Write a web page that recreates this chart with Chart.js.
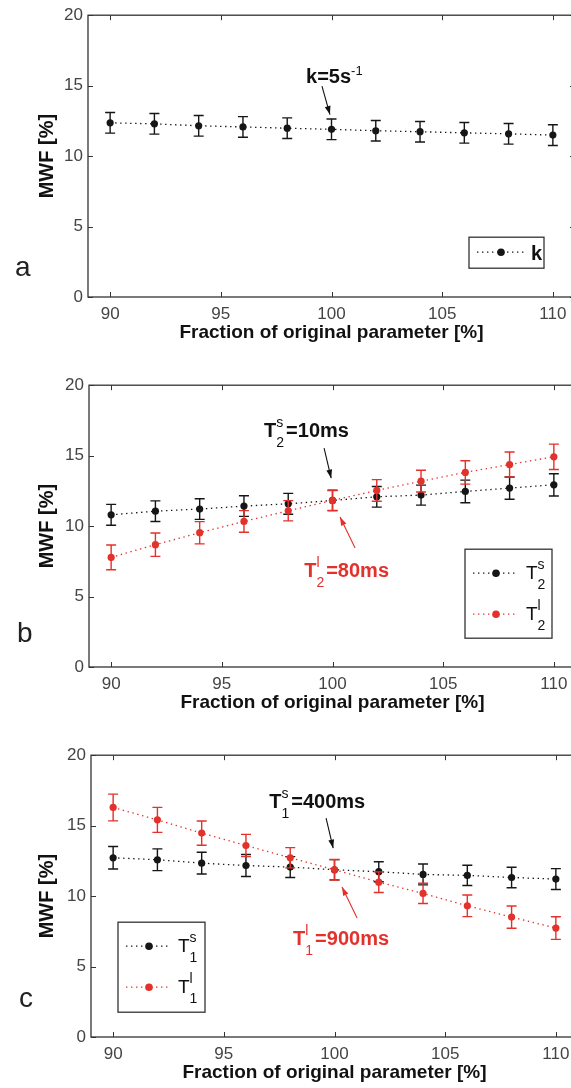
<!DOCTYPE html>
<html><head><meta charset="utf-8">
<script src="https://cdn.jsdelivr.net/npm/chart.js@4.4.1/dist/chart.umd.min.js"></script>
<style>
html,body{margin:0;padding:0;background:#fff;}
#wrap{position:relative;width:571px;height:1088px;overflow:hidden;background:#fff;}
.panel{position:absolute;left:0;width:600px;height:348px;}
.lbl{position:absolute;font:28px 'Liberation Sans',Arial,sans-serif;line-height:28px;color:#222;}
</style></head><body>
<div id="wrap">
 <div class="panel" style="top:0"><canvas id="ca" width="600" height="348"></canvas></div>
 <div class="panel" style="top:370px"><canvas id="cb" width="600" height="348"></canvas></div>
 <div class="panel" style="top:740px"><canvas id="cc" width="600" height="348"></canvas></div>
 <div class="lbl" style="left:15px;top:253px">a</div>
 <div class="lbl" style="left:17px;top:619px">b</div>
 <div class="lbl" style="left:19px;top:984px">c</div>
</div>
<script>
// ---------- data ----------
const xTicks = [90, 95, 100, 105, 110];
const yTicks = [0, 5, 10, 15, 20];
const fractions = [90, 92, 94, 96, 98, 100, 102, 104, 106, 108, 110];

const kVals  = [12.36, 12.29, 12.15, 12.07, 11.98, 11.90, 11.80, 11.73, 11.65, 11.58, 11.49];
const kErr   = [0.73, 0.73, 0.73, 0.73, 0.73, 0.73, 0.73, 0.73, 0.73, 0.73, 0.74];

const t2sVals = [10.80, 11.06, 11.21, 11.42, 11.58, 11.82, 12.08, 12.20, 12.46, 12.70, 12.93];
const t2sErr  = [0.74, 0.73, 0.73, 0.73, 0.74, 0.72, 0.73, 0.71, 0.80, 0.79, 0.79];
const t2lVals = [7.78, 8.68, 9.53, 10.33, 11.09, 11.82, 12.53, 13.19, 13.81, 14.37, 14.92];
const t2lErr  = [0.88, 0.83, 0.79, 0.77, 0.72, 0.71, 0.77, 0.77, 0.83, 0.89, 0.90];

const t1sVals = [12.72, 12.58, 12.34, 12.17, 12.06, 11.87, 11.73, 11.54, 11.47, 11.32, 11.21];
const t1sErr  = [0.80, 0.77, 0.77, 0.78, 0.74, 0.72, 0.71, 0.74, 0.72, 0.73, 0.74];
const t1lVals = [16.29, 15.41, 14.47, 13.59, 12.72, 11.87, 10.99, 10.19, 9.31, 8.51, 7.73];
const t1lErr  = [0.95, 0.89, 0.86, 0.79, 0.72, 0.73, 0.73, 0.72, 0.77, 0.79, 0.80];

// ---------- styles ----------
const F = "'Liberation Sans', Arial, sans-serif";
const BLACK = '#161616';
const RED = '#e3312b';

function pts(vals){ return fractions.map((x,i)=>({x:x, y:vals[i]})); }
function series(label, vals, errs, color, order){
  return {
    label, data: pts(vals), errors: errs, order,
    borderColor: color, borderWidth: 1.3, borderDash: [1.4, 3.6],
    pointRadius: 3.6, pointBackgroundColor: color, pointBorderWidth: 0,
    showLine: true, fill: false, tension: 0
  };
}

function rich(ctx, x, y, parts, color){
  ctx.save(); ctx.fillStyle = color; ctx.textBaseline = 'alphabetic'; ctx.textAlign = 'left';
  for (const p of parts){
    ctx.font = p.f;
    if (p.t !== undefined){ ctx.fillText(p.t, x, y); x += ctx.measureText(p.t).width; }
    else {
      let w = 0;
      if (p.sup){ ctx.fillText(p.sup, x, y - p.up); w = Math.max(w, ctx.measureText(p.sup).width); }
      if (p.sub){ ctx.fillText(p.sub, x, y + p.dn); w = Math.max(w, ctx.measureText(p.sub).width); }
      x += w + (p.gap || 0);
    }
  }
  ctx.restore();
}

function arrow(ctx, x1, y1, x2, y2, color){
  ctx.save(); ctx.strokeStyle = color; ctx.fillStyle = color; ctx.lineWidth = 1.1;
  ctx.beginPath(); ctx.moveTo(x1, y1); ctx.lineTo(x2, y2); ctx.stroke();
  const a = Math.atan2(y2 - y1, x2 - x1), L = 9, W = 0.33;
  ctx.beginPath(); ctx.moveTo(x2, y2);
  ctx.lineTo(x2 - L*Math.cos(a - W), y2 - L*Math.sin(a - W));
  ctx.lineTo(x2 - L*Math.cos(a + W), y2 - L*Math.sin(a + W));
  ctx.closePath(); ctx.fill();
  ctx.restore();
}

const errorBars = {
  id: 'errorBars',
  beforeDatasetDraw(chart, args){
    const ds = chart.data.datasets[args.index];
    if (!ds.errors) return;
    const {ctx, scales:{x, y}} = chart;
    ctx.save(); ctx.strokeStyle = ds.borderColor; ctx.lineWidth = 1.4;
    ds.data.forEach((p, i) => {
      const px = x.getPixelForValue(p.x);
      const lo = y.getPixelForValue(p.y - ds.errors[i]);
      const hi = y.getPixelForValue(p.y + ds.errors[i]);
      ctx.beginPath();
      ctx.moveTo(px, lo); ctx.lineTo(px, hi);
      ctx.moveTo(px - 5, lo); ctx.lineTo(px + 5, lo);
      ctx.moveTo(px - 5, hi); ctx.lineTo(px + 5, hi);
      ctx.stroke();
    });
    ctx.restore();
  }
};

const frame = {
  id: 'frame',
  afterDraw(chart){
    const {ctx, chartArea:a, scales:{x, y}} = chart;
    ctx.save(); ctx.strokeStyle = '#333'; ctx.lineWidth = 1.3;
    ctx.strokeRect(a.left, a.top, a.right - a.left, a.bottom - a.top);
    ctx.lineWidth = 1;
    ctx.beginPath();
    x.ticks.forEach(t => { const px = Math.round(x.getPixelForValue(t.value)) + 0.5;
      ctx.moveTo(px, a.bottom); ctx.lineTo(px, a.bottom - 5);
      ctx.moveTo(px, a.top); ctx.lineTo(px, a.top + 5); });
    y.ticks.forEach(t => { const py = Math.round(y.getPixelForValue(t.value)) + 0.5;
      ctx.moveTo(a.left, py); ctx.lineTo(a.left + 5, py);
      ctx.moveTo(a.right, py); ctx.lineTo(a.right - 5, py); });
    ctx.stroke();
    ctx.restore();
  }
};

const extras = {
  id: 'extras',
  afterDraw(chart, args, opts){
    const {ctx, chartArea:a, scales:{x, y}} = chart;
    (opts.notes || []).forEach(n => {
      rich(ctx, x.getPixelForValue(n.x), y.getPixelForValue(n.y), n.parts, n.color);
      arrow(ctx, x.getPixelForValue(n.ax[0]), y.getPixelForValue(n.ax[1]),
                 x.getPixelForValue(n.ax[2]), y.getPixelForValue(n.ax[3]), n.color);
    });
    const lg = opts.legend;
    if (lg){
      const bx = a.left + lg.x, by = a.top + lg.y;
      ctx.save();
      ctx.fillStyle = '#fff'; ctx.fillRect(bx, by, lg.w, lg.h);
      ctx.strokeStyle = '#333'; ctx.lineWidth = 1.3; ctx.strokeRect(bx, by, lg.w, lg.h);
      lg.rows.forEach(r => {
        const ds = chart.data.datasets[r.ds];
        const ry = by + r.dy;
        ctx.save(); ctx.strokeStyle = ds.borderColor; ctx.lineWidth = 1.3; ctx.setLineDash(ds.borderDash);
        ctx.beginPath(); ctx.moveTo(bx + 8, ry); ctx.lineTo(bx + lg.lineEnd, ry); ctx.stroke(); ctx.restore();
        ctx.fillStyle = ds.pointBackgroundColor;
        ctx.beginPath(); ctx.arc(bx + lg.mark, ry, 3.8, 0, Math.PI*2); ctx.fill();
        rich(ctx, bx + lg.text, ry + r.base, r.parts, '#111');
      });
      ctx.restore();
    }
  }
};

function makeChart(id, datasets, leftW, notes, legend){
  const right = 600 - (leftW + 487);
  return new Chart(document.getElementById(id), {
    type: 'line',
    data: { datasets },
    plugins: [errorBars, frame, extras],
    options: {
      responsive: false, animation: false, devicePixelRatio: 1,
      layout: { padding: { left: 0, right: right, top: 15, bottom: 0 } },
      plugins: { legend: { display: false }, tooltip: { enabled: false },
                 extras: { notes, legend } },
      scales: {
        x: { type: 'linear', min: 89, max: 111,
             afterBuildTicks: s => { s.ticks = xTicks.map(v => ({value: v})); },
             afterFit: s => { s.height = 51; },
             grid: { display: false, drawTicks: false }, border: { display: false },
             ticks: { padding: 7, color: '#444', font: { family: F, size: 17 } },
             title: { display: true, text: 'Fraction of original parameter [%]', color: '#111',
                      font: { family: F, size: 19, weight: 'bold' }, padding: { top: 0, bottom: 4 } } },
        y: { type: 'linear', min: 0, max: 20,
             afterBuildTicks: s => { s.ticks = yTicks.map(v => ({value: v})); },
             afterFit: s => { s.width = leftW; },
             grid: { display: false, drawTicks: false }, border: { display: false },
             ticks: { padding: 5, color: '#444', font: { family: F, size: 17 } },
             title: { display: true, text: 'MWF [%]', color: '#111',
                      font: { family: F, size: 20, weight: 'bold' }, padding: { top: 35, bottom: 0 } } }
      }
    }
  });
}

const B20 = 'bold 20px ' + F, S14 = '14px ' + F, R19 = '19px ' + F;

makeChart('ca', [ series('k', kVals, kErr, BLACK, 0) ], 88,
  [ { x: 98.85, y: 15.18, color: '#111', ax: [99.57, 14.96, 99.93, 12.95],
      parts: [ {t: 'k=5s', f: B20}, {sup: '-1', up: 8, f: '13px ' + F} ] } ],
  { x: 381, y: 222, w: 75, h: 31, lineEnd: 55, mark: 32, text: 62,
    rows: [ { ds: 0, dy: 15, base: 8, parts: [ {t: 'k', f: B20} ] } ] });

makeChart('cb', [ series('T2s', t2sVals, t2sErr, BLACK, 1), series('T2l', t2lVals, t2lErr, RED, 0) ], 89,
  [ { x: 96.91, y: 16.31, color: '#111', ax: [99.62, 15.53, 99.94, 13.40],
      parts: [ {t: 'T', f: B20}, {sup: 's', sub: '2', up: 10, dn: 10, gap: 2, f: S14}, {t: '=10ms', f: B20} ] },
    { x: 98.72, y: 6.38, color: RED, ax: [101.02, 8.44, 100.34, 10.64],
      parts: [ {t: 'T', f: B20}, {sup: 'l', sub: '2', up: 10, dn: 10, gap: 2, f: S14}, {t: '=80ms', f: B20} ] } ],
  { x: 376, y: 164, w: 87, h: 89, lineEnd: 52, mark: 31, text: 61,
    rows: [ { ds: 0, dy: 24, base: 6, parts: [ {t: 'T', f: R19}, {sup: 's', sub: '2', up: 10, dn: 10, f: S14} ] },
            { ds: 1, dy: 65, base: 6, parts: [ {t: 'T', f: R19}, {sup: 'l', sub: '2', up: 10, dn: 10, f: S14} ] } ] });

makeChart('cc', [ series('T1s', t1sVals, t1sErr, BLACK, 1), series('T1l', t1lVals, t1lErr, RED, 0) ], 91,
  [ { x: 97.05, y: 16.24, color: '#111', ax: [99.62, 15.53, 99.94, 13.40],
      parts: [ {t: 'T', f: B20}, {sup: 's', sub: '1', up: 10, dn: 10, gap: 2, f: S14}, {t: '=400ms', f: B20} ] },
    { x: 98.13, y: 6.52, color: RED, ax: [101.02, 8.44, 100.34, 10.64],
      parts: [ {t: 'T', f: B20}, {sup: 'l', sub: '1', up: 10, dn: 10, gap: 2, f: S14}, {t: '=900ms', f: B20} ] } ],
  { x: 27, y: 167, w: 87, h: 90, lineEnd: 53, mark: 31, text: 60,
    rows: [ { ds: 0, dy: 24, base: 6, parts: [ {t: 'T', f: R19}, {sup: 's', sub: '1', up: 10, dn: 10, f: S14} ] },
            { ds: 1, dy: 65, base: 6, parts: [ {t: 'T', f: R19}, {sup: 'l', sub: '1', up: 10, dn: 10, f: S14} ] } ] });
</script>
</body></html>
